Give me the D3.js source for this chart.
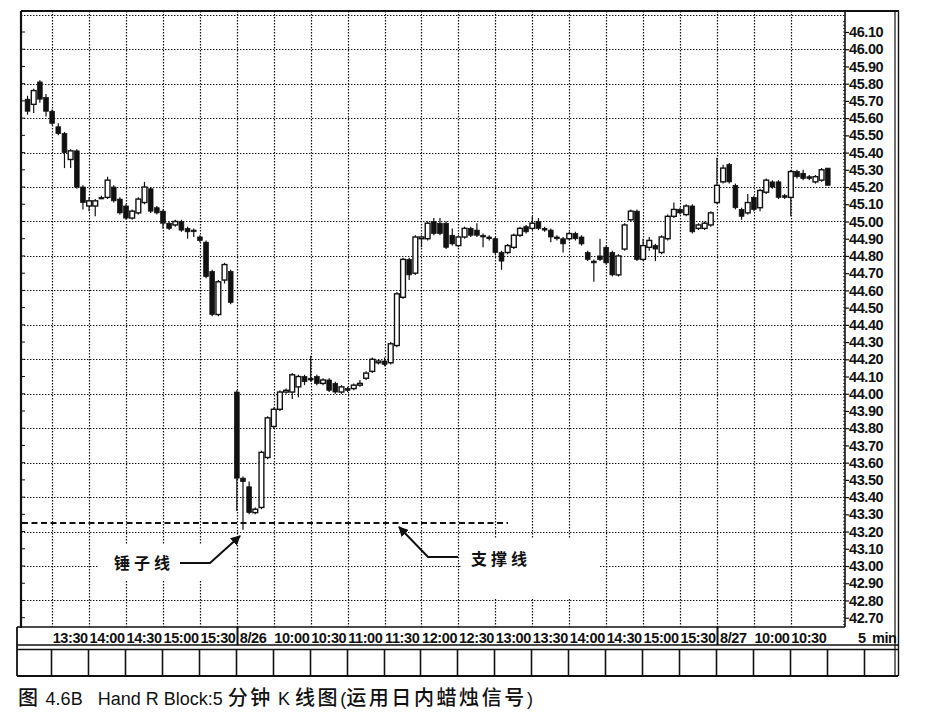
<!DOCTYPE html>
<html><head><meta charset="utf-8">
<script src="https://cdn.jsdelivr.net/npm/d3@7"></script>
<style>body{margin:0;background:#fff}svg{display:block}</style>
</head><body>
<svg id="c" width="925" height="728"></svg>
<script>
// ---- data: [open, high, low, close] per 5-minute bar ----
const day1 = [ // 8/25 13:10 - 15:55
[45.71,45.73,45.62,45.64],[45.68,45.77,45.63,45.76],[45.81,45.82,45.69,45.71],[45.72,45.74,45.61,45.64],
[45.64,45.65,45.56,45.57],[45.55,45.57,45.50,45.51],[45.51,45.52,45.31,45.40],[45.36,45.42,45.31,45.41],
[45.41,45.42,45.19,45.20],[45.20,45.21,45.07,45.11],[45.09,45.14,45.06,45.12],[45.09,45.13,45.03,45.12],
[45.14,45.15,45.13,45.14],[45.14,45.26,45.13,45.24],[45.20,45.21,45.11,45.12],[45.13,45.14,45.04,45.05],
[45.09,45.10,45.01,45.02],[45.02,45.07,45.01,45.06],[45.05,45.14,45.04,45.13],[45.11,45.23,45.10,45.20],
[45.19,45.20,45.05,45.06],[45.08,45.09,45.04,45.05],[45.06,45.07,44.96,44.99],[44.99,45.00,44.95,44.96],
[44.98,45.01,44.97,45.00],[45.00,45.01,44.94,44.95],[44.96,44.97,44.90,44.94],[44.95,44.96,44.91,44.95],
[44.91,44.92,44.88,44.89],[44.88,44.89,44.67,44.68],[44.71,44.72,44.45,44.46],[44.46,44.66,44.45,44.65],
[44.66,44.76,44.64,44.75],[44.71,44.72,44.52,44.53]
];
const day2 = [ // 8/26 9:30 - 15:55
[44.01,44.02,43.32,43.51],[43.51,43.52,43.21,43.49],[43.46,43.49,43.30,43.31],[43.31,43.34,43.30,43.33],
[43.34,43.67,43.33,43.66],[43.63,43.87,43.62,43.86],[43.81,43.92,43.80,43.91],[43.91,44.02,43.90,44.01],
[44.01,44.03,44.00,44.02],[44.01,44.12,43.97,44.11],[44.04,44.11,43.98,44.10],[44.10,44.11,44.05,44.07],
[44.09,44.22,44.07,44.08],[44.10,44.11,44.05,44.06],[44.06,44.09,44.05,44.08],[44.08,44.09,44.01,44.02],
[44.06,44.07,44.00,44.01],[44.01,44.05,44.00,44.04],[44.03,44.04,44.01,44.02],[44.03,44.06,44.02,44.05],
[44.05,44.08,44.04,44.06],[44.09,44.13,44.08,44.12],[44.13,44.21,44.12,44.20],[44.18,44.20,44.17,44.19],
[44.19,44.21,44.16,44.17],[44.18,44.30,44.17,44.29],[44.28,44.59,44.27,44.58],[44.56,44.79,44.55,44.78],
[44.78,44.79,44.66,44.69],[44.70,44.92,44.69,44.91],[44.90,44.92,44.85,44.91],[44.90,45.00,44.89,44.99],
[45.00,45.02,44.92,44.93],[44.99,45.02,44.92,44.93],[44.99,45.00,44.84,44.85],[44.92,44.96,44.86,44.87],
[44.86,44.92,44.85,44.91],[44.91,44.97,44.90,44.96],[44.96,44.97,44.91,44.92],[44.95,44.99,44.91,44.92],
[44.92,44.93,44.85,44.91],[44.91,44.92,44.89,44.90],[44.90,44.91,44.81,44.82],[44.82,44.83,44.72,44.77],
[44.82,44.87,44.81,44.86],[44.85,44.93,44.84,44.92],[44.92,44.97,44.91,44.96],[44.97,44.98,44.93,44.94],
[44.96,45.03,44.95,44.99],[45.00,45.02,44.95,44.96],[44.96,44.97,44.94,44.95],[44.95,44.96,44.88,44.91],
[44.91,44.92,44.89,44.90],[44.90,44.91,44.82,44.87],[44.90,44.94,44.89,44.93],[44.93,44.94,44.89,44.90],
[44.91,44.92,44.86,44.87],[44.82,44.83,44.77,44.78],[44.77,44.78,44.65,44.76],[44.80,44.90,44.77,44.78],
[44.85,44.86,44.75,44.76],[44.82,44.83,44.68,44.69],[44.69,44.81,44.68,44.80],[44.84,44.99,44.83,44.98],
[45.01,45.07,45.00,45.06],[45.06,45.07,44.77,44.78],[44.78,44.90,44.77,44.86],[44.85,44.91,44.83,44.89],
[44.86,44.87,44.77,44.84],[44.82,44.92,44.81,44.91],[44.90,45.04,44.89,45.03],[45.03,45.11,45.02,45.07],
[45.07,45.08,45.04,45.05],[45.04,45.10,45.03,45.09],[45.09,45.10,44.93,44.94],[44.96,44.99,44.95,44.98],
[44.96,45.00,44.95,44.99],[44.98,45.06,44.97,45.05]
];
const day3 = [ // 8/27 9:30 - 11:00
[45.11,45.37,45.10,45.21],[45.23,45.33,45.22,45.31],[45.33,45.34,45.22,45.23],[45.21,45.22,45.07,45.08],
[45.07,45.08,45.01,45.03],[45.05,45.16,45.04,45.11],[45.14,45.15,45.06,45.07],[45.08,45.19,45.06,45.18],
[45.17,45.25,45.16,45.24],[45.23,45.24,45.19,45.20],[45.23,45.24,45.13,45.14],[45.15,45.16,45.13,45.14],
[45.14,45.30,45.03,45.29],[45.29,45.30,45.25,45.26],[45.28,45.30,45.24,45.25],[45.26,45.27,45.24,45.25],
[45.23,45.27,45.22,45.26],[45.24,45.31,45.23,45.30],[45.31,45.31,45.21,45.21]
];
const timeLabels = ["13:30","14:00","14:30","15:00","15:30","8/26","10:00","10:30","11:00","11:30","12:00",
  "12:30","13:00","13:30","14:00","14:30","15:00","15:30","8/27","10:00","10:30"];
const timeSlots = [4,10,16,22,28,34,40,46,52,58,64,70,76,82,88,94,100,106,112,118,124];
const panelSlots = [4,10,16,22,28,34,40,46,52,58,64,70,76,82,88,94,100,106,112,118,124,130,136];
const yTickLabels = ["46.10","46.00","45.90","45.80","45.70","45.60","45.50","45.40","45.30","45.20","45.10",
  "45.00","44.90","44.80","44.70","44.60","44.50","44.40","44.30","44.20","44.10","44.00","43.90","43.80",
  "43.70","43.60","43.50","43.40","43.30","43.20","43.10","43.00","42.90","42.80","42.70"];
const gridValues = ["46.20","46.00","45.80","45.60","45.40","45.20","45.00","44.80","44.60","44.40","44.20",
  "44.00","43.80","43.60","43.40","43.20","43.00","42.80"];
const supportLevel = 43.25;
const caption = "图 4.6B\u00a0\u00a0\u00a0Hand R Block:5 分钟 K 线图(运用日内蜡烛信号)";

// ---- layout ----
const svg = d3.select("#c");
const PL = 21, PR = 845, PT = 11, PB = 627;
const x = d3.scaleLinear().domain([-0.9, 132.8]).range([22, 845]);
const y = d3.scaleLinear().domain([42.70, 46.10]).range([617.7, 32]);
const numFont = "'Liberation Sans Narrow','Arial Narrow','Liberation Sans',Arial,sans-serif";
const ink = "#111";
const numSize = 14.5;

const bars = [...day1, ...day2, ...day3].map((d, i) => ({g: i, o: d[0], h: d[1], l: d[2], c: d[3]}));

// grid
const grid = svg.append("g").attr("stroke", ink).attr("stroke-width", 1.2).attr("stroke-dasharray", "1.4,1.6");
grid.selectAll("line.h").data(gridValues).join("line")
  .attr("x1", PL).attr("x2", PR).attr("y1", d => Math.round(y(+d)) + 0.5).attr("y2", d => Math.round(y(+d)) + 0.5);
grid.selectAll("line.v").data(timeSlots).join("line")
  .attr("y1", PT).attr("y2", PB).attr("x1", d => Math.round(x(d)) + 0.5).attr("x2", d => Math.round(x(d)) + 0.5);

// white-outs behind annotation text
svg.append("rect").attr("x", 98).attr("y", 545).attr("width", 134).attr("height", 36).attr("fill", "#fff");
svg.append("rect").attr("x", 462).attr("y", 539).attr("width", 138).attr("height", 60).attr("fill", "#fff");

// support line
svg.append("line").attr("x1", 22).attr("x2", 508).attr("y1", y(supportLevel)).attr("y2", y(supportLevel))
  .attr("stroke", ink).attr("stroke-width", 2).attr("stroke-dasharray", "6,3.5");

// candles
const cg = svg.append("g");
const bw = 4.8;
cg.selectAll("line.w").data(bars).join("line")
  .attr("x1", d => x(d.g)).attr("x2", d => x(d.g)).attr("y1", d => y(d.h)).attr("y2", d => y(d.l))
  .attr("stroke", ink).attr("stroke-width", 1.2);
cg.selectAll("rect").data(bars).join("rect")
  .attr("x", d => x(d.g) - bw / 2).attr("width", bw)
  .attr("y", d => y(Math.max(d.o, d.c)))
  .attr("height", d => Math.max(1.6, y(Math.min(d.o, d.c)) - y(Math.max(d.o, d.c))))
  .attr("fill", d => d.c > d.o ? "#fff" : ink)
  .attr("stroke", ink).attr("stroke-width", d => d.c > d.o ? 1.4 : 0.7);

// plot frame & axes
svg.append("line").attr("x1", PL).attr("x2", 899).attr("y1", PT).attr("y2", PT).attr("stroke", ink).attr("stroke-width", 2);
svg.append("line").attr("x1", PL).attr("x2", PL).attr("y1", PT).attr("y2", PB + 1).attr("stroke", ink).attr("stroke-width", 2.2);
svg.append("line").attr("x1", PL).attr("x2", PR).attr("y1", PB).attr("y2", PB).attr("stroke", ink).attr("stroke-width", 1.6);

// left border ticks
svg.append("g").selectAll("line").data(yTickLabels).join("line")
  .attr("x1", PL).attr("x2", PL + 4).attr("y1", d => y(+d)).attr("y2", d => y(+d)).attr("stroke", ink).attr("stroke-width", 1);

// right axis
const yAxis = d3.axisRight(y).tickValues(yTickLabels.map(Number)).tickFormat(d3.format(".2f")).tickSize(4).tickPadding(0);
const ya = svg.append("g").attr("transform", `translate(${PR},0)`).call(yAxis);
ya.select(".domain").attr("d", `M0,${PT}V${PB}`).attr("stroke", ink).attr("stroke-width", 1.6);
ya.selectAll(".tick line").attr("stroke", ink).attr("stroke-width", 1.2);
ya.selectAll(".tick text").attr("fill", ink).attr("font-family", numFont).attr("font-weight", "bold")
  .attr("font-size", numSize).attr("letter-spacing", -0.4);
// minor ticks along the axis
svg.append("g").selectAll("line").data(d3.range(0, 176)).join("line")
  .attr("x1", PR - 2).attr("x2", PR).attr("y1", i => y(42.66 + i * 0.02)).attr("y2", i => y(42.66 + i * 0.02))
  .attr("stroke", ink).attr("stroke-width", 0.8);

// x labels
const xAxis = d3.axisBottom(x).tickValues(timeSlots).tickFormat((d, i) => timeLabels[i]).tickSize(0).tickPadding(0);
const xa = svg.append("g").attr("transform", `translate(0,${PB})`).call(xAxis);
xa.select(".domain").remove();
xa.selectAll(".tick text").attr("fill", ink).attr("font-family", numFont).attr("font-weight", "bold")
  .attr("font-size", numSize).attr("letter-spacing", -0.4).attr("text-anchor", "start").attr("dy", 0).attr("y", 15.5)
  .attr("x", (d, i) => timeLabels[i].includes("/") ? 2.5 : 0);
// date separators in the label strip
svg.append("g").selectAll("line").data(timeSlots.filter((d, i) => timeLabels[i].includes("/"))).join("line")
  .attr("x1", d => Math.round(x(d)) + 0.5).attr("x2", d => Math.round(x(d)) + 0.5).attr("y1", PB).attr("y2", 645)
  .attr("stroke", ink).attr("stroke-width", 2);
svg.append("text").attr("x", 858).attr("y", 642.5).attr("font-family", numFont).attr("font-weight", "bold")
  .attr("font-size", numSize).attr("fill", ink).text("5");
svg.append("text").attr("x", 872).attr("y", 642.5).attr("font-family", numFont).attr("font-weight", "bold")
  .attr("font-size", numSize).attr("letter-spacing", -0.4).attr("fill", ink).text("min");

// label strip + lower panel
const frame = svg.append("g").attr("stroke", ink).attr("fill", "none");
frame.append("line").attr("x1", 17).attr("x2", 898).attr("y1", 645).attr("y2", 645).attr("stroke-width", 1.6);
frame.append("line").attr("x1", 17).attr("x2", 898).attr("y1", 649.5).attr("y2", 649.5).attr("stroke-width", 1.6);
frame.append("line").attr("x1", 17).attr("x2", 898).attr("y1", 676).attr("y2", 676).attr("stroke-width", 1.8);
frame.append("line").attr("x1", 17).attr("x2", 17).attr("y1", PB).attr("y2", 676).attr("stroke-width", 1.8);
frame.append("line").attr("x1", 17).attr("x2", PL).attr("y1", PB).attr("y2", PB).attr("stroke-width", 1.6);
frame.append("line").attr("x1", 895).attr("x2", 895).attr("y1", PT).attr("y2", 676).attr("stroke-width", 1.2);
frame.append("line").attr("x1", 898.5).attr("x2", 898.5).attr("y1", PT).attr("y2", 676).attr("stroke-width", 1.4);
frame.selectAll("line.p").data(panelSlots).join("line")
  .attr("x1", d => Math.round(x(d)) - 0.5).attr("x2", d => Math.round(x(d)) - 0.5).attr("y1", 649).attr("y2", 676)
  .attr("stroke-width", 1.6);

// annotations
const ann = svg.append("g");
const cjk = "'Noto Sans CJK SC','Noto Sans CJK JP',sans-serif";
ann.append("text").attr("x", 114).attr("y", 569).attr("font-family", cjk).attr("font-size", 16).attr("font-weight", "bold")
  .attr("letter-spacing", 4).attr("fill", ink).text("锤子线");
ann.append("text").attr("x", 471).attr("y", 565).attr("font-family", cjk).attr("font-size", 16).attr("font-weight", "bold")
  .attr("letter-spacing", 4).attr("fill", ink).text("支撑线");
svg.append("defs").append("marker").attr("id", "ah").attr("viewBox", "0 0 10 10").attr("refX", 9).attr("refY", 5)
  .attr("markerWidth", 5).attr("markerHeight", 5).attr("orient", "auto")
  .append("path").attr("d", "M0,0L10,5L0,10Z").attr("fill", ink);
ann.append("polyline").attr("points", "180,563 210,563 240,536").attr("fill", "none").attr("stroke", ink)
  .attr("stroke-width", 2).attr("marker-end", "url(#ah)");
ann.append("polyline").attr("points", "458,557 428,557 399,527").attr("fill", "none").attr("stroke", ink)
  .attr("stroke-width", 2).attr("marker-end", "url(#ah)");

// caption: CJK runs slightly larger than Latin runs
const cap = svg.append("text").attr("x", 18).attr("y", 705).attr("fill", ink);
const runs = caption.match(/[\u4e00-\u9fff]+|[^\u4e00-\u9fff]+/g);
cap.selectAll("tspan").data(runs).join("tspan")
  .attr("font-family", d => /[\u4e00-\u9fff]/.test(d) ? cjk : "'Liberation Sans',Arial,sans-serif")
  .attr("font-size", d => /[\u4e00-\u9fff]/.test(d) ? 20 : 18)
  .attr("font-weight", d => /[\u4e00-\u9fff]/.test(d) ? 500 : 400)
  .attr("letter-spacing", d => /[\u4e00-\u9fff]/.test(d) ? 2.6 : 0)
  .text(d => d);
</script>
</body></html>
